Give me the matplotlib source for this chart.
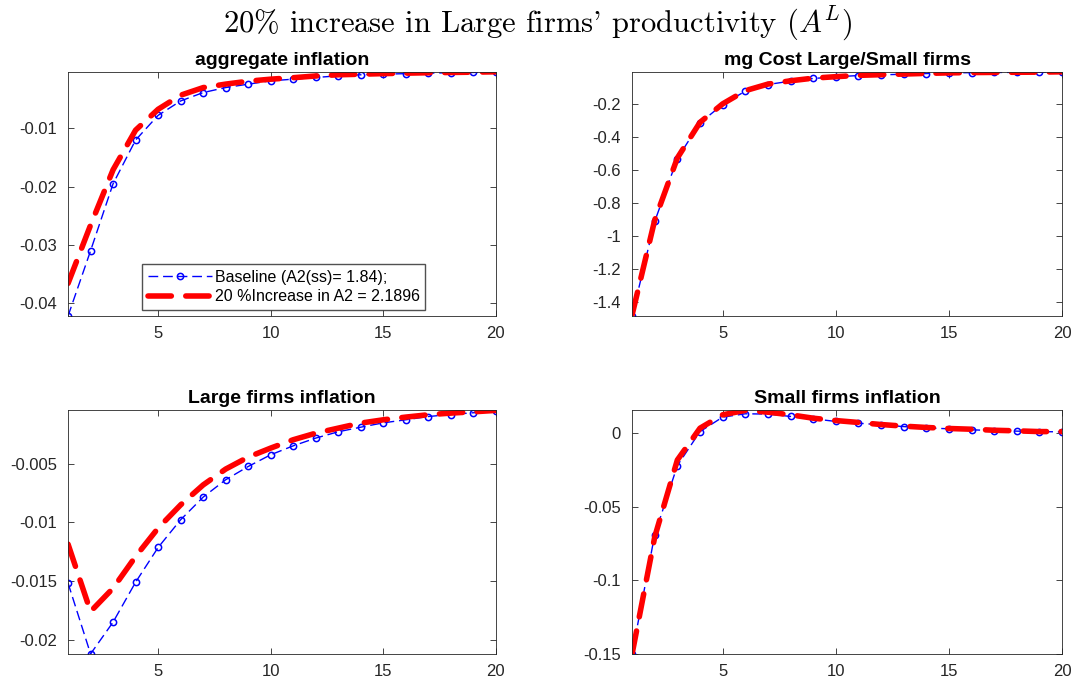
import numpy as np
import matplotlib
matplotlib.use("Agg")
import matplotlib.pyplot as plt

plt.rcParams['font.family'] = ['Liberation Sans', 'DejaVu Sans']
plt.rcParams['mathtext.fontset'] = 'cm'

periods = np.arange(1, 21)

# aggregate inflation
agg_base = [-0.0422, -0.0310, -0.0195, -0.0120, -0.00776, -0.00529, -0.00385, -0.00299, -0.00241, -0.00184,
            -0.00155, -0.00126, -0.00098, -0.00080, -0.00070, -0.00060, -0.00052, -0.00045, -0.00040, -0.00029]
agg_high = [-0.0366, -0.0266, -0.0171, -0.0103, -0.00672, -0.00430, -0.00300, -0.00240, -0.00190, -0.00155,
            -0.00130, -0.00100, -0.00080, -0.00070, -0.00060, -0.00052, -0.00045, -0.00040, -0.00035, -0.00029]

# mg cost large / small firms
mc_base = [-1.487, -0.913, -0.532, -0.315, -0.204, -0.123, -0.0825, -0.062, -0.046, -0.036,
           -0.028, -0.024, -0.020, -0.016, -0.012, -0.0105, -0.0095, -0.0087, -0.008, -0.0055]
mc_high = [-1.480, -0.905, -0.528, -0.312, -0.200, -0.120, -0.0800, -0.060, -0.044, -0.035,
           -0.027, -0.023, -0.019, -0.015, -0.012, -0.0100, -0.0090, -0.0082, -0.0075, -0.0055]

# large firms inflation
lf_base = [-0.01517, -0.0212, -0.01849, -0.01509, -0.01213, -0.00977, -0.00784, -0.00636, -0.00523, -0.00423,
           -0.00347, -0.00281, -0.00227, -0.00188, -0.00151, -0.00125, -0.00097, -0.00080, -0.00065, -0.00054]
lf_high = [-0.01185, -0.01759, -0.0156, -0.0129, -0.01048, -0.0085, -0.0068, -0.00545, -0.00443, -0.00366,
           -0.00295, -0.00239, -0.00196, -0.00153, -0.00125, -0.00102, -0.00082, -0.00068, -0.00057, -0.00045]

# small firms inflation
sf_base = [-0.150, -0.0689, -0.0220, 0.0011, 0.0109, 0.0132, 0.0130, 0.0114, 0.0098, 0.0080,
           0.0068, 0.0057, 0.0045, 0.0036, 0.0030, 0.0023, 0.0018, 0.0014, 0.0011, 0.0009]
sf_high = [-0.150, -0.0705, -0.0182, 0.0034, 0.0125, 0.0155, 0.0143, 0.0125, 0.0102, 0.0086,
           0.0073, 0.0059, 0.0048, 0.0039, 0.0032, 0.0027, 0.0020, 0.0016, 0.0011, 0.0011]

titles = ['aggregate inflation', 'mg Cost Large/Small firms', 'Large firms inflation', 'Small firms inflation']
series = [(agg_base, agg_high), (mc_base, mc_high), (lf_base, lf_high), (sf_base, sf_high)]
yticks = [[-0.04, -0.03, -0.02, -0.01],
          [-1.4, -1.2, -1, -0.8, -0.6, -0.4, -0.2],
          [-0.02, -0.015, -0.01, -0.005],
          [-0.15, -0.1, -0.05, 0]]
ylabels = [['-0.04', '-0.03', '-0.02', '-0.01'],
           ['-1.4', '-1.2', '-1', '-0.8', '-0.6', '-0.4', '-0.2'],
           ['-0.02', '-0.015', '-0.01', '-0.005'],
           ['-0.15', '-0.1', '-0.05', '0']]
xticks = [5, 10, 15, 20]

fig = plt.figure(figsize=(10.75, 6.84), dpi=100)
positions = [[0.0633, 0.538, 0.398, 0.357], [0.588, 0.538, 0.400, 0.357],
             [0.0633, 0.044, 0.398, 0.356], [0.588, 0.044, 0.400, 0.356]]

axc = '0.15'
for i, (pos, (base, high)) in enumerate(zip(positions, series)):
    ax = fig.add_axes(pos)
    lb, = ax.plot(periods, base, color='blue', lw=1, marker='o', ms=4.5, mfc='none', mew=1.1,
                  label='Baseline (A2(ss)= 1.84);')
    lb.set_dashes((7, 3.5))
    lh, = ax.plot(periods, high, color='red', lw=4, dash_capstyle='round',
                  label='20 %Increase in A2 = 2.1896')
    lh.set_dashes((4.2, 2.6))
    ax.set_xlim(1, 20)
    lo = min(min(base), min(high))
    hi = max(max(base), max(high))
    ax.set_ylim(lo, hi)
    ax.set_xticks(xticks)
    ax.set_yticks(yticks[i])
    ax.set_yticklabels(ylabels[i])
    ax.tick_params(direction='in', top=True, right=True, labelsize=12, colors=axc,
                   labelcolor='0.15', length=4, width=0.6)
    ax.tick_params(axis='x', pad=7)
    ax.tick_params(axis='y', pad=8)
    for s in ax.spines.values():
        s.set_color(axc)
        s.set_linewidth(0.6)
    ax.set_title(titles[i], fontsize=14, fontweight='bold', pad=5)
    if i == 0:
        ax.legend(loc='lower left', bbox_to_anchor=(0.173, 0.025), fontsize=11.5, frameon=True,
                  fancybox=False, edgecolor='0.15', handlelength=4, borderpad=0.35,
                  labelspacing=0.3, handletextpad=0.2, borderaxespad=0)

fig.suptitle("20% increase in Large firms' productivity ($A^L$)", family=['cmr10', 'DejaVu Serif'],
             fontsize=22, y=0.995)

fig.savefig('out.png', dpi=100)
